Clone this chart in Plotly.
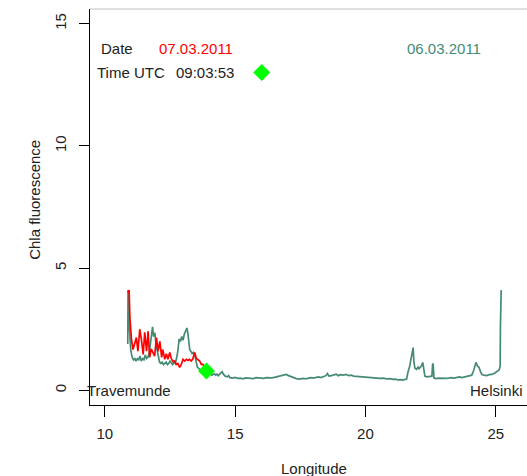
import plotly.graph_objects as go

# 06.03.2011 track (teal)
lon_0603 = [10.88, 10.89, 10.91, 10.93, 10.96, 10.99, 11.02, 11.05, 11.10, 11.15, 11.20, 11.25,
            11.30, 11.35, 11.40, 11.45, 11.50, 11.55, 11.60, 11.65, 11.70, 11.75, 11.80, 11.83,
            11.87, 11.92, 11.96, 12.00, 12.05, 12.10, 12.15, 12.20, 12.25, 12.30, 12.35, 12.40,
            12.45, 12.50, 12.55, 12.60, 12.65, 12.70, 12.75, 12.80, 12.85, 12.90, 12.95, 13.00,
            13.05, 13.10, 13.15, 13.19, 13.22, 13.26, 13.30, 13.35, 13.40, 13.45, 13.50, 13.55,
            13.60, 13.65, 13.70, 13.80, 13.90, 14.00, 14.10, 14.20, 14.25, 14.30, 14.35, 14.45,
            14.50, 14.55, 14.62, 14.70, 14.75, 14.80, 14.90, 15.00, 15.10, 15.20, 15.30, 15.40,
            15.50, 15.60, 15.70, 15.80, 15.90, 16.00, 16.10, 16.20, 16.30, 16.40, 16.50, 16.60,
            16.70, 16.80, 16.90, 16.97, 17.05, 17.15, 17.25, 17.35, 17.47, 17.60, 17.70, 17.80,
            17.90, 18.00, 18.10, 18.20, 18.30, 18.40, 18.48, 18.54, 18.60, 18.70, 18.80, 18.88,
            18.95, 19.05, 19.15, 19.26, 19.35, 19.45, 19.55, 19.65, 19.75, 19.85, 19.95, 20.05,
            20.15, 20.25, 20.35, 20.45, 20.55, 20.65, 20.75, 20.85, 20.95, 21.05, 21.15, 21.25,
            21.35, 21.45, 21.52, 21.58, 21.63, 21.70, 21.77, 21.83, 21.86, 21.90, 21.96, 22.02,
            22.06, 22.10, 22.15, 22.20, 22.25, 22.28, 22.35, 22.45, 22.55, 22.58, 22.60, 22.63,
            22.70, 22.80, 22.90, 23.00, 23.10, 23.20, 23.30, 23.40, 23.50, 23.60, 23.70, 23.80,
            23.90, 24.00, 24.08, 24.15, 24.20, 24.24, 24.30, 24.36, 24.42, 24.47, 24.55, 24.65,
            24.75, 24.85, 24.95, 25.05, 25.12, 25.15, 25.17, 25.18, 25.19, 25.21]
chla_0603 = [1.9, 4.1, 3.5, 2.8, 2.1, 1.7, 1.5, 1.35, 1.25, 1.3, 1.2, 1.3,
             1.25, 1.4, 1.2, 1.3, 1.25, 1.45, 1.3, 1.35, 1.5, 1.9, 2.4, 2.6,
             2.2, 2.35, 1.9, 1.7, 1.4, 1.15, 1.1, 1.15, 1.05, 1.1, 1.15, 1.05,
             1.1, 1.2, 1.1, 1.05, 1.15, 1.1, 1.3, 1.6, 2.1, 2.0, 2.2, 2.05,
             2.3, 2.45, 2.55, 2.3, 1.9, 1.65, 1.6, 1.5, 1.55, 1.45, 1.2, 0.95,
             0.9, 0.85, 0.8, 0.78, 0.75, 0.72, 0.62, 0.68, 0.62, 0.66, 0.6, 0.7,
             0.76, 0.66, 0.58, 0.55, 0.6, 0.52, 0.5, 0.53, 0.49, 0.5, 0.47, 0.51,
             0.49, 0.5, 0.48, 0.52, 0.5, 0.51, 0.49, 0.52, 0.5, 0.51, 0.53, 0.55,
             0.58, 0.6, 0.62, 0.65, 0.6, 0.55, 0.5, 0.48, 0.46, 0.49, 0.47, 0.5,
             0.52, 0.5, 0.53, 0.55, 0.52, 0.57, 0.6, 0.69, 0.58, 0.6, 0.62, 0.66,
             0.6, 0.64, 0.62, 0.65, 0.6, 0.62, 0.58, 0.57, 0.55, 0.56, 0.53, 0.54,
             0.52, 0.5, 0.52, 0.5, 0.49, 0.5, 0.48, 0.47, 0.48, 0.45, 0.46, 0.43,
             0.44, 0.42, 0.45, 0.46, 0.73, 1.0, 1.4, 1.75, 1.15, 0.9, 0.86, 0.95,
             0.88, 0.94, 1.0, 1.14, 0.62, 0.58, 0.55, 0.55, 0.58, 1.1, 1.06, 0.5,
             0.48, 0.5, 0.49, 0.51, 0.49, 0.5, 0.52, 0.5, 0.53, 0.55, 0.52, 0.54,
             0.56, 0.58, 0.62, 0.8, 1.0, 1.14, 1.0, 0.94, 0.75, 0.65, 0.62, 0.6,
             0.64, 0.65, 0.7, 0.78, 0.82, 0.9, 1.0, 2.6, 3.2, 4.1]

# 07.03.2011 track (red)
lon_0703 = [10.88, 10.93, 10.96, 11.02, 11.08, 11.15, 11.21, 11.27, 11.34, 11.40, 11.47, 11.53,
            11.60, 11.66, 11.72, 11.78, 11.84, 11.91, 11.98, 12.04, 12.11, 12.18, 12.22, 12.30,
            12.36, 12.42, 12.49, 12.55, 12.61, 12.68, 12.74, 12.80, 12.87, 12.93, 13.00, 13.06,
            13.13, 13.19, 13.25, 13.31, 13.37, 13.45, 13.51, 13.56, 13.64, 13.70, 13.76, 13.83]
chla_0703 = [4.0, 4.1, 3.0, 2.1, 1.67, 1.9, 2.16, 1.6, 2.5, 2.1, 1.47, 2.37,
             1.6, 2.42, 1.35, 1.7, 1.55, 1.4, 2.16, 1.6, 2.0, 1.35, 1.67, 1.27,
             1.5, 1.27, 1.55, 1.3, 1.18, 1.2, 1.06, 1.1, 0.94, 1.05, 1.27, 1.2,
             1.27, 1.22, 1.27, 1.2, 1.27, 1.55, 1.3, 1.25, 1.2, 1.06, 1.06, 0.95]

# current position markers
pos_lon = [16.02, 13.9]
pos_chla = [13.0, 0.79]

x_ticks = [10, 15, 20, 25]
y_ticks = [0, 5, 10, 15]

TEAL = "#458B74"
RED = "#FF0000"
FONT = "Liberation Sans, Arial, sans-serif"
FS = 15

fig = go.Figure()
fig.add_trace(go.Scatter(x=lon_0603, y=chla_0603, mode="lines",
                         line=dict(color=TEAL, width=1.7), showlegend=False))
fig.add_trace(go.Scatter(x=lon_0703, y=chla_0703, mode="lines",
                         line=dict(color=RED, width=1.7), showlegend=False))
fig.add_trace(go.Scatter(x=pos_lon, y=pos_chla, mode="markers",
                         marker=dict(symbol="diamond", size=13, color="#00FF00",
                                     line=dict(width=0)),
                         showlegend=False, cliponaxis=False))

texts = [
    dict(x=10.45, y=14.0, text="Date", color="#222222"),
    dict(x=13.5, y=14.0, text="07.03.2011", color=RED),
    dict(x=23.03, y=14.0, text="06.03.2011", color=TEAL),
    dict(x=11.02, y=13.0, text="Time UTC", color="#222222"),
    dict(x=13.83, y=13.0, text="09:03:53", color="#222222"),
    dict(x=10.94, y=0.0, text="Travemunde", color="#222222"),
    dict(x=25.03, y=0.0, text="Helsinki", color="#222222"),
]
for t in texts:
    fig.add_annotation(x=t["x"], y=t["y"], xref="x", yref="y", text=t["text"],
                       showarrow=False, xanchor="center", yanchor="middle",
                       font=dict(family=FONT, size=FS, color=t["color"]))

# axis titles
fig.add_annotation(x=0, y=0.518, xref="paper", yref="paper", xshift=-55,
                   text="Chla fluorescence", textangle=-90, showarrow=False,
                   xanchor="center", yanchor="middle",
                   font=dict(family=FONT, size=FS, color="#222222"))
fig.add_annotation(x=0.513, y=0, xref="paper", yref="paper", yshift=-63,
                   text="Longitude", showarrow=False,
                   xanchor="center", yanchor="middle",
                   font=dict(family=FONT, size=FS, color="#222222"))

# top border of the plot box
fig.add_shape(type="line", xref="paper", yref="paper", x0=0, x1=1, y0=1, y1=1,
              line=dict(color="#c0c0c0", width=1))

fig.update_xaxes(range=[9.43, 26.2], tickvals=x_ticks, ticktext=[str(v) for v in x_ticks],
                 showline=True, linecolor="black", linewidth=1, mirror=False,
                 ticks="outside", ticklen=11, tickcolor="black", tickwidth=1,
                 showgrid=False, zeroline=False, ticklabelstandoff=4,
                 tickfont=dict(family=FONT, size=FS, color="#222222"))
fig.update_yaxes(range=[-0.6, 15.6], tickvals=y_ticks, ticktext=[str(v) for v in y_ticks],
                 showline=True, linecolor="black", linewidth=1, mirror=False,
                 ticks="outside", ticklen=10, tickcolor="black", tickwidth=1,
                 showgrid=False, zeroline=False, tickangle=-90, ticklabelstandoff=7,
                 tickfont=dict(family=FONT, size=FS, color="#222222"))

fig.update_layout(width=527, height=476, autosize=False,
                  margin=dict(l=90, r=0, t=9, b=71),
                  plot_bgcolor="white", paper_bgcolor="white",
                  font=dict(family=FONT))

fig.write_html("out.html")
